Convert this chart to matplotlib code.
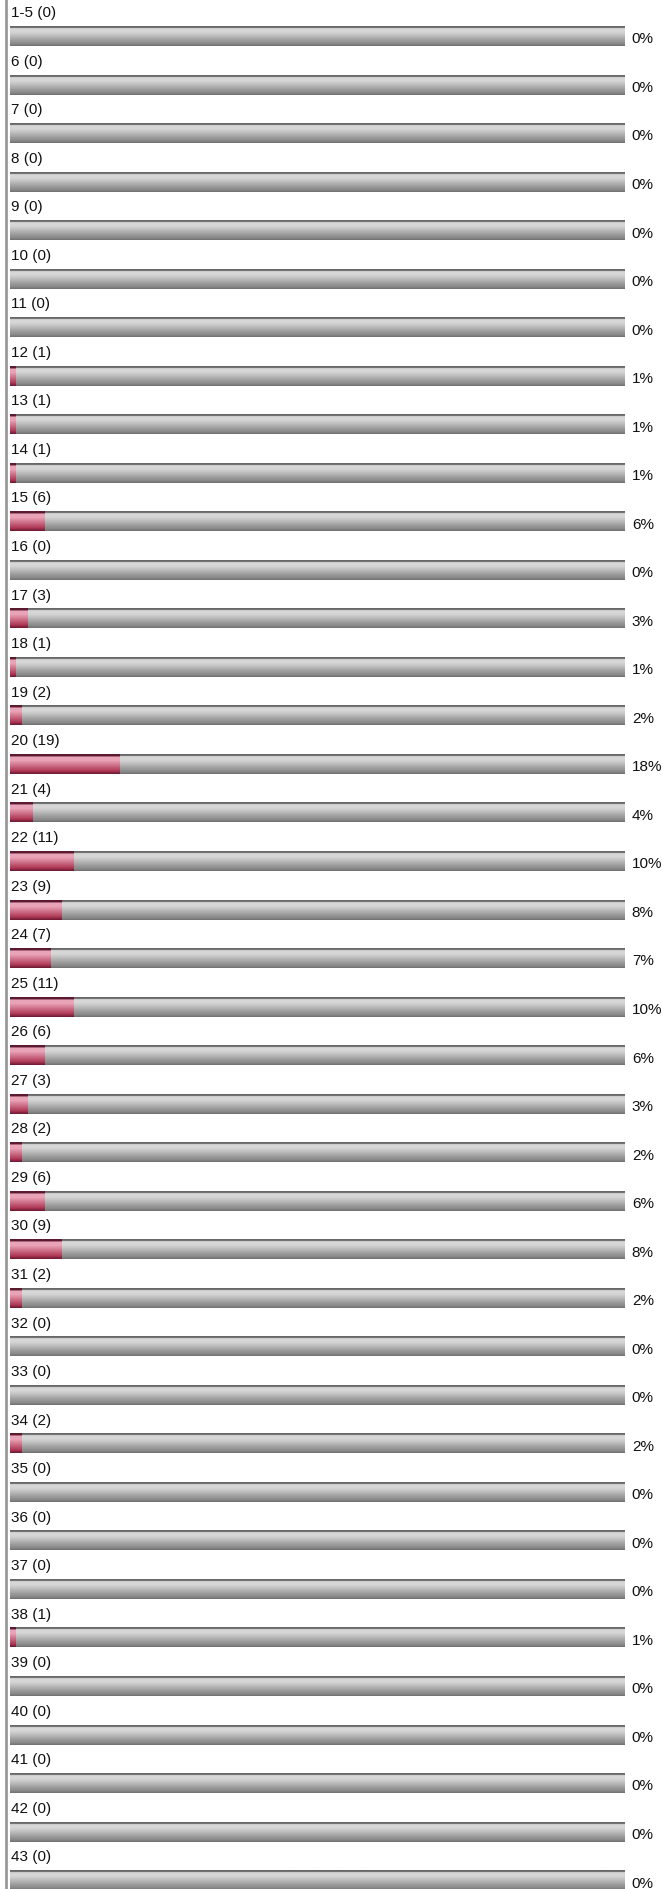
import numpy as np
import matplotlib
matplotlib.use("Agg")
import matplotlib.pyplot as plt
from matplotlib.colors import LinearSegmentedColormap

plt.rcParams['font.family'] = ['Liberation Sans', 'DejaVu Sans']

# data
categories = ['1-5'] + [str(i) for i in range(6, 44)]
counts = [0, 0, 0, 0, 0, 0, 0, 1, 1, 1, 6, 0, 3, 1, 2, 19, 4, 11, 9, 7,
          11, 6, 3, 2, 6, 9, 2, 0, 0, 2, 0, 0, 0, 1, 0, 0, 0, 0, 0]

total = sum(counts)
shares = [100.0 * c / total for c in counts]

# vertical shading profiles (top -> bottom)
gray_rows = np.array([0x68, 0x74, 0xcc, 0xd6, 0xd8, 0xd6, 0xd2, 0xcc, 0xc6, 0xbf,
                      0xb8, 0xb1, 0xaa, 0xa3, 0x9c, 0x96, 0x90, 0x8a, 0x80, 0x74]) / 255.0
gray_img = np.repeat(gray_rows[:, None, None], 3, axis=2)
gray_img = np.repeat(gray_img, 2, axis=1)

red_top = np.array([0x5c, 0x1a, 0x30]) / 255.0
red_light = np.array([0xea, 0xa4, 0xb8]) / 255.0
red_mid = np.array([0xb0, 0x3a, 0x58]) / 255.0
red_bot = np.array([0x74, 0x1c, 0x36]) / 255.0
red_cmap = LinearSegmentedColormap.from_list(
    'r', [(0.0, red_top), (0.08, red_top), (0.12, red_light),
          (0.3, red_light), (0.85, red_mid), (1.0, red_bot)])
red_img = red_cmap(np.linspace(0, 1, 20))[:, None, :3]
red_img = np.repeat(red_img, 2, axis=1)

W, H = 663, 1889
fig = plt.figure(figsize=(W / 100, H / 100), dpi=100)
ax = fig.add_axes([0, 0, 1, 1])

px_per_pct = 6.15
pitch = 48.53
x0 = 10
y0 = 36
ax.set_xlim(-x0 / px_per_pct, (W - x0) / px_per_pct)
ax.set_ylim((H - y0) / pitch, -y0 / pitch)
ax.axis('off')

bar_h = 20 / pitch
for i, (cat, c, s) in enumerate(zip(categories, counts, shares)):
    ax.imshow(gray_img, extent=(0, 100, i + bar_h / 2, i - bar_h / 2),
              aspect='auto', interpolation='bilinear', zorder=1)
    if c > 0:
        ax.imshow(red_img, extent=(0, s, i + bar_h / 2, i - bar_h / 2),
                  aspect='auto', interpolation='bilinear', zorder=2)
    ax.text(0.15, i - 0.47, f"{cat} ({c})", fontsize=11, color='#111111',
            ha='left', va='center')
    ax.text(101.1, i + 0.07, f"{round(s)}%", fontsize=11, color='#111111',
            ha='left', va='center')

ax.axvline(-4 / px_per_pct, color='#999999', lw=2, zorder=0)

fig.savefig('out.png', dpi=100)
